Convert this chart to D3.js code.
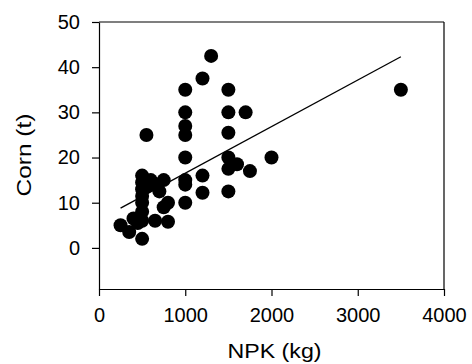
<!DOCTYPE html>
<html>
<head>
<meta charset="utf-8">
<script src="https://cdn.jsdelivr.net/npm/d3@7"></script>
<style>
  html, body { margin: 0; padding: 0; background: #fff; }
  svg { display: block; }
  text { font-family: Arial, "Liberation Sans", Helvetica, sans-serif; fill: #000; }
</style>
</head>
<body>
<svg id="chart" width="472" height="364"></svg>
<script>
// NPK (kg) values
const npk = [250, 350, 400, 450, 500, 500, 500, 500, 500, 500, 500, 500,
             550, 550, 600, 650, 650, 700, 750, 750, 800, 800,
             1000, 1000, 1000, 1000, 1000, 1000, 1000, 1000,
             1200, 1200, 1200, 1300,
             1500, 1500, 1500, 1500, 1500, 1500,
             1600, 1700, 1750, 2000, 3500];
// Corn (t) values
const corn = [5, 3.5, 6.5, 5.5, 2, 6, 8, 10, 11.5, 13, 14.5, 16,
              25, 13.5, 15, 6, 14, 12.5, 15, 9, 10, 5.8,
              35, 30, 27, 25, 20, 15, 14, 10,
              37.5, 16, 12.2, 42.5,
              35, 30, 25.5, 20, 17.5, 12.5,
              18.5, 30, 17, 20, 35];
// regression line end points
const regNpk = [250, 3500];
const regCorn = [8.8, 42.3];

const xTicks = [0, 1000, 2000, 3000, 4000];
const yTicks = [0, 10, 20, 30, 40, 50];
const xTitle = "NPK (kg)";
const yTitle = "Corn (t)";

const svg = d3.select("#chart");
const mLeft = 99, mRight = 444, mTop = 22, mBottom = 289;

const x = d3.scaleLinear().domain([0, 4000]).range([mLeft, mRight]);
const y = d3.scaleLinear().domain([-9.1, 50]).range([mBottom, mTop]);

// frame lines (top and right)
svg.append("line").attr("x1", mLeft).attr("x2", mRight).attr("y1", mTop).attr("y2", mTop)
  .attr("stroke", "#000").attr("stroke-width", 1.2);
svg.append("line").attr("x1", mRight).attr("x2", mRight).attr("y1", mTop).attr("y2", mBottom)
  .attr("stroke", "#000").attr("stroke-width", 1.2);

const xAxis = svg.append("g").attr("transform", `translate(0,${mBottom})`)
  .call(d3.axisBottom(x).tickValues(xTicks).tickFormat(d3.format("d")).tickSizeInner(7).tickSizeOuter(0).tickPadding(12));
const yAxis = svg.append("g").attr("transform", `translate(${mLeft},0)`)
  .call(d3.axisLeft(y).tickValues(yTicks).tickFormat(d3.format("d")).tickSizeInner(7).tickSizeOuter(0).tickPadding(12));

[xAxis, yAxis].forEach(g => {
  g.select(".domain").attr("stroke", "#000").attr("stroke-width", 1.2);
  g.selectAll(".tick line").attr("stroke", "#000").attr("stroke-width", 1.2);
  g.selectAll(".tick text").attr("font-size", 20).attr("font-family", "Arial, 'Liberation Sans', sans-serif").attr("fill", "#000");
});

// points
const pts = npk.map((v, i) => ({ x: v, y: corn[i] }));
svg.append("g").selectAll("circle").data(pts).join("circle")
  .attr("cx", d => x(d.x)).attr("cy", d => y(d.y)).attr("r", 7).attr("fill", "#000");

// regression line
svg.append("line")
  .attr("x1", x(regNpk[0])).attr("y1", y(regCorn[0]))
  .attr("x2", x(regNpk[1])).attr("y2", y(regCorn[1]))
  .attr("stroke", "#000").attr("stroke-width", 1.3);

// titles
svg.append("text").attr("x", 274.5).attr("y", 358)
  .attr("text-anchor", "middle").attr("font-size", 21)
  .attr("textLength", 94).attr("lengthAdjust", "spacingAndGlyphs").text(xTitle);
svg.append("text").attr("transform", `translate(30.5,155) rotate(-90)`)
  .attr("text-anchor", "middle").attr("font-size", 21)
  .attr("textLength", 83).attr("lengthAdjust", "spacingAndGlyphs").text(yTitle);
</script>
</body>
</html>
